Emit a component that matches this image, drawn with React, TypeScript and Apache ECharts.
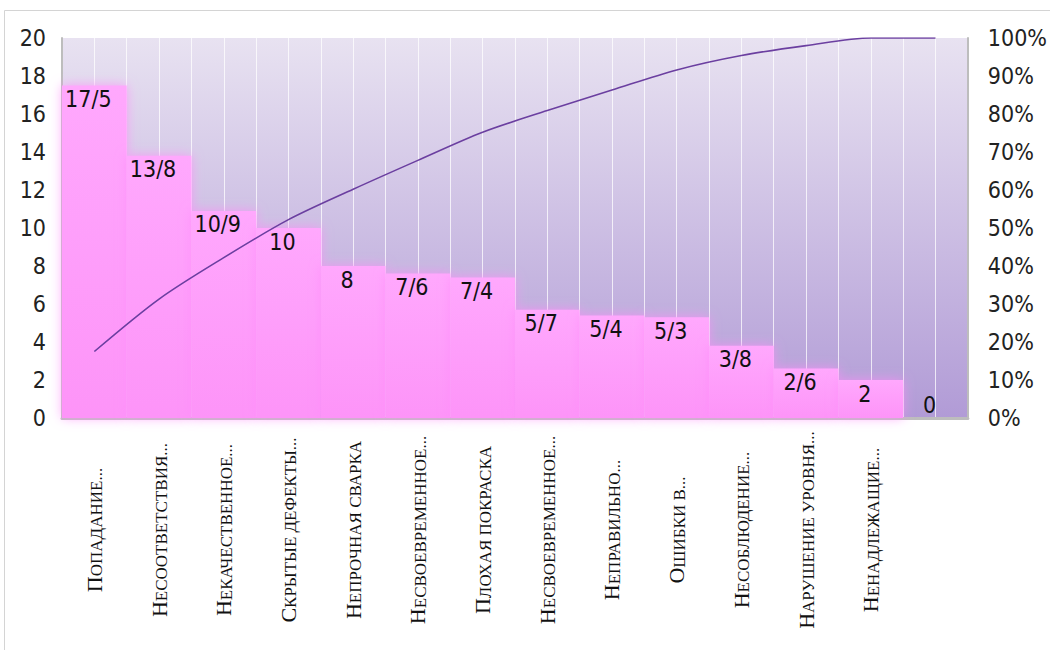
import React, { useEffect, useRef } from "react";
import * as echarts from "echarts";

// Defect causes (Pareto order) and their shares, %
const categories = [
  "Попадание...",
  "Несоответствия...",
  "Некачественное...",
  "Скрытые дефекты...",
  "Непрочная сварка",
  "Несвоевременное...",
  "Плохая покраска",
  "Несвоевременное...",
  "Неправильно...",
  "Ошибки в...",
  "Несоблюдение...",
  "Нарушение уровня...",
  "Ненадлежащие...",
  "",
];
const shares = [17.5, 13.8, 10.9, 10, 8, 7.6, 7.4, 5.7, 5.4, 5.3, 3.8, 2.6, 2, 0];
const cumulative = [17.5, 31.3, 42.2, 52.2, 60.2, 67.8, 75.2, 80.9, 86.3, 91.6, 95.4, 98, 100, 100];
// half-category slots used only for the light vertical grid lines
const gridSlots = Array.from({ length: categories.length * 2 }, (_, i) => String(i));

const numFont = "'Liberation Sans Narrow', 'DejaVu Sans Condensed', sans-serif";
const catFont = "'Liberation Serif', serif";

export default function App() {
  const ref = useRef<HTMLDivElement>(null);

  useEffect(() => {
    if (!ref.current) return;
    const chart = echarts.init(ref.current, null, { renderer: "svg" });
    chart.setOption({
      animation: false,
      graphic: [
        {
          type: "rect",
          shape: { x: 4.5, y: 10.5, width: 1100, height: 700 },
          style: { fill: "none", stroke: "#d4d4d4", lineWidth: 1 },
          silent: true,
        },
      ],
      grid: {
        left: 62,
        right: 78,
        top: 38,
        bottom: 232,
        show: true,
        borderWidth: 0,
        backgroundColor: new echarts.graphic.LinearGradient(0, 0, 0, 1, [
          { offset: 0, color: "#e8e2f1" },
          { offset: 1, color: "#b19bd6" },
        ]),
      },
      xAxis: [
        {
          type: "category",
          data: categories,
          axisLine: { show: true, lineStyle: { color: "#bdbdbd", width: 3 } },
          axisTick: { show: false },
          splitLine: { show: false },
          axisLabel: {
            interval: 0,
            rotate: 90,
            align: "center",
            verticalAlign: "middle",
            margin: 112,
            formatter: (v: string) =>
              v ? `{a|${v.charAt(0).toUpperCase()}}{b|${v.slice(1).toUpperCase()}}` : "",
            rich: {
              a: { fontFamily: catFont, fontSize: 22, color: "#111", verticalAlign: "bottom" },
              b: { fontFamily: catFont, fontSize: 17, color: "#111", verticalAlign: "bottom" },
            },
          },
        },
        {
          type: "category",
          data: gridSlots,
          position: "bottom",
          axisLine: { show: false },
          axisTick: { show: false },
          axisLabel: { show: false },
          splitLine: {
            show: true,
            interval: 0,
            lineStyle: { color: "rgba(255,255,255,0.75)", width: 1 },
          },
        },
      ],
      yAxis: [
        {
          type: "value",
          min: 0,
          max: 20,
          interval: 2,
          axisLine: { show: true, lineStyle: { color: "#bdbdbd", width: 2 } },
          axisTick: { show: false },
          splitLine: { show: false },
          axisLabel: { fontFamily: numFont, fontSize: 23, color: "#222", margin: 16 },
        },
        {
          type: "value",
          min: 0,
          max: 100,
          interval: 10,
          position: "right",
          axisLine: { show: true, lineStyle: { color: "#bdbdbd", width: 2 } },
          axisTick: { show: false },
          splitLine: { show: false },
          axisLabel: {
            fontFamily: numFont,
            fontSize: 23,
            color: "#222",
            margin: 20,
            formatter: "{value}%",
          },
        },
      ],
      series: [
        {
          type: "bar",
          xAxisIndex: 0,
          yAxisIndex: 0,
          barCategoryGap: "0%",
          data: shares.map((v) =>
            v === 0 ? { value: v, label: { position: "top", distance: 2 } } : v
          ),
          itemStyle: {
            color: new echarts.graphic.LinearGradient(0, 0, 0, 1, [
              { offset: 0, color: "#ffa8fd" },
              { offset: 1, color: "#fd94f8" },
            ]),
            shadowBlur: 12,
            shadowColor: "rgba(255,140,250,0.75)",
          },
          label: {
            show: true,
            position: "insideTop",
            distance: 2,
            offset: [-6, 0],
            fontFamily: numFont,
            fontSize: 23,
            color: "#111",
            formatter: (p: any) => String(p.value).replace(".", "/"),
          },
          z: 2,
        },
        {
          type: "line",
          xAxisIndex: 0,
          yAxisIndex: 1,
          data: cumulative,
          smooth: 0.3,
          symbol: "none",
          lineStyle: { color: "#6b3fa0", width: 1.6 },
          z: 3,
        },
      ],
    });
    return () => chart.dispose();
  }, []);

  return (
    <div style={{ position: "fixed", left: 0, top: 0, width: 1050, height: 650, background: "#fff" }}>
      <div ref={ref} style={{ width: 1050, height: 650 }} />
    </div>
  );
}
